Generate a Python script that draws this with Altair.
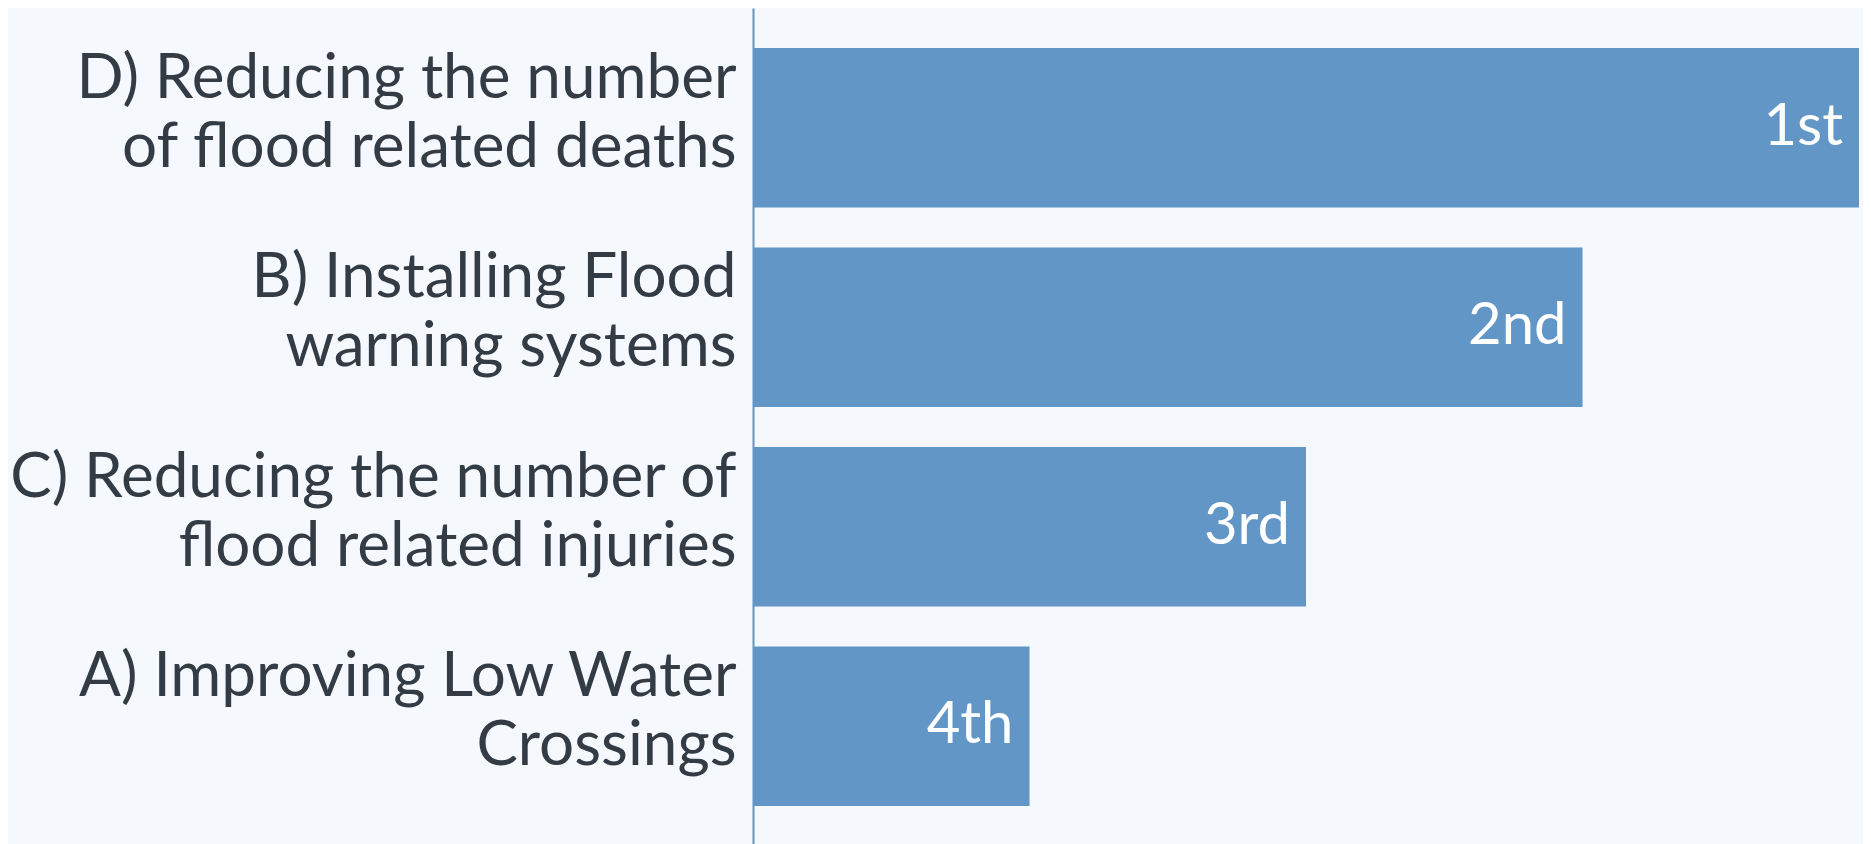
import altair as alt
import pandas as pd

categories = [
    "D) Reducing the number|of flood related deaths",
    "B) Installing Flood|warning systems",
    "C) Reducing the number of|flood related injuries",
    "A) Improving Low Water|Crossings",
]
scores = [4, 3, 2, 1]
ranks = ["1st", "2nd", "3rd", "4th"]

df = pd.DataFrame({"option": categories, "score": scores, "rank": ranks})

FONT = "Lato"
TEXT_COLOR = "#333b45"
BAR_COLOR = "#6196c7"
BG = "#f5f9fd"

base = alt.Chart(df).encode(
    y=alt.Y(
        "option:N",
        sort=categories,
        title=None,
        scale=alt.Scale(paddingInner=0.2, paddingOuter=0.2),
        axis=alt.Axis(
            labelExpr="split(datum.label, '|')",
            labelFont=FONT,
            labelFontSize=62,
            labelColor=TEXT_COLOR,
            labelPadding=17,
            labelLimit=0,
            labelLineHeight=69,
            labelOffset=-49,
            ticks=False,
            grid=False,
            domainColor=BAR_COLOR,
            domainWidth=2,
        ),
    )
)

bars = base.mark_bar(color=BAR_COLOR).encode(
    x=alt.X("score:Q", scale=alt.Scale(domain=[0, 4], nice=False), axis=None)
)

text = base.mark_text(
    align="right", baseline="middle", dx=-16, color="white", font=FONT, fontSize=58
).encode(x=alt.X("score:Q"), text="rank:N")

chart = (
    (bars + text)
    .properties(
        width=1106,
        height=838,
        background=BG,
        autosize=alt.AutoSizeParams(type="none"),
        padding={"left": 745, "right": 4, "top": 0, "bottom": 0},
    )
    .configure_view(stroke=None)
)

chart.save("out.html", embed_options={"renderer": "svg", "actions": False})
